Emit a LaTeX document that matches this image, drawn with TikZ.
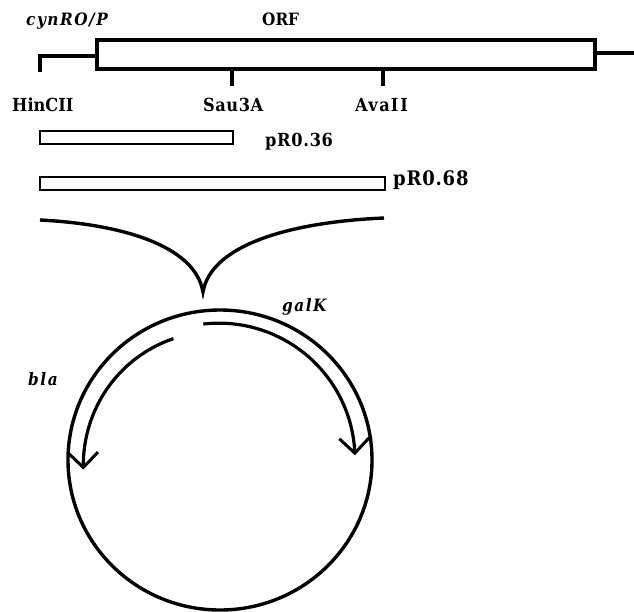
\documentclass[tikz,border=0pt]{standalone}
\usepackage{fontspec}
\setmainfont{DejaVu Serif Condensed}
\usetikzlibrary{arrows.meta}
\begin{document}
\begin{tikzpicture}[x=1pt,y=-1pt,
  lbl/.style={inner sep=0pt, anchor=base west, font=\fontsize{18}{18}\selectfont\bfseries},
  toplbl/.style={inner sep=0pt, anchor=base west, font=\fontsize{17}{17}\selectfont\bfseries},
  gene/.style={inner sep=0pt, anchor=base west, font=\fontsize{17}{17}\selectfont\bfseries\itshape\addfontfeature{LetterSpace=9}},
  thickline/.style={line width=3.4pt},
  frag/.style={line width=2.7pt},
  genearrow/.style={line width=3.2pt, -{Straight Barb[length=15pt,width=30pt,line width=3pt]}}
]
\useasboundingbox (0,0) rectangle (634,611);
% labels
\node[gene] (cyn) at (26,25) {cynRO/P};
\node[toplbl] (orf) at (262,25) {ORF};
\node[lbl] (hinc) at (12,111) {HinCII};
\node[lbl, font=\fontsize{18}{18}\selectfont\bfseries\addfontfeature{LetterSpace=3}] (sau) at (203,111) {Sau3A};
\node[lbl, font=\fontsize{18}{18}\selectfont\bfseries\addfontfeature{LetterSpace=8}] (ava) at (355,111) {Ava\hspace{1pt}I\hspace{2pt}I};
\node[lbl, font=\fontsize{18}{18}\selectfont\bfseries\addfontfeature{LetterSpace=4}] (p36) at (265,146) {pR0.36};
\node[lbl, font=\fontsize{20}{20}\selectfont\bfseries\addfontfeature{LetterSpace=4}] (p68) at (393,185) {pR0.68};
\node[gene] (galk) at (282,311) {galK};
\node[gene] (bla) at (28,385) {bla};
% top map
\coordinate (h0) at (40,72);
\coordinate (h1) at (40,56);
\coordinate (b0) at (97,56);
\coordinate (r0) at (595,53);
\coordinate (r1) at (634,53);
\draw[thickline] (97,40) rectangle (595,69);
\draw[thickline] (h0) -- (h1) -- (b0);
\draw[thickline] (r0) -- (r1);
\coordinate (s0) at (232,69);
\coordinate (s1) at (232,86);
\coordinate (a0) at (383,69);
\coordinate (a1) at (383,86);
\draw[thickline] (s0) -- (s1);
\draw[thickline] (a0) -- (a1);
% fragments
\draw[frag] (40,131) rectangle (233,144);
\draw[frag] (40,177) rectangle (385,190);
% brace
\coordinate (bl) at (40,220);
\coordinate (bc) at (203,292);
\coordinate (br) at (384,218);
\draw[thickline] (bl) .. controls (120,224) and (195,245) .. (bc)
                 .. controls (211,245) and (290,222) .. (br);
% plasmid
\coordinate (c) at (220,460);
\draw[thickline] (c) ellipse[x radius=152, y radius=150];
\draw[genearrow] plot[domain=-97:-2, samples=60, smooth]
  ({220+(137-2*(\x+97)/95)*cos(\x)}, {460+(137-2*(\x+97)/95)*sin(\x)});
\draw[genearrow] plot[domain=-111:-184, samples=60, smooth]
  ({220+(130+7*(\x+111)/(-73))*cos(\x)}, {460+(130+7*(\x+111)/(-73))*sin(\x)});
\end{tikzpicture}
\end{document}
